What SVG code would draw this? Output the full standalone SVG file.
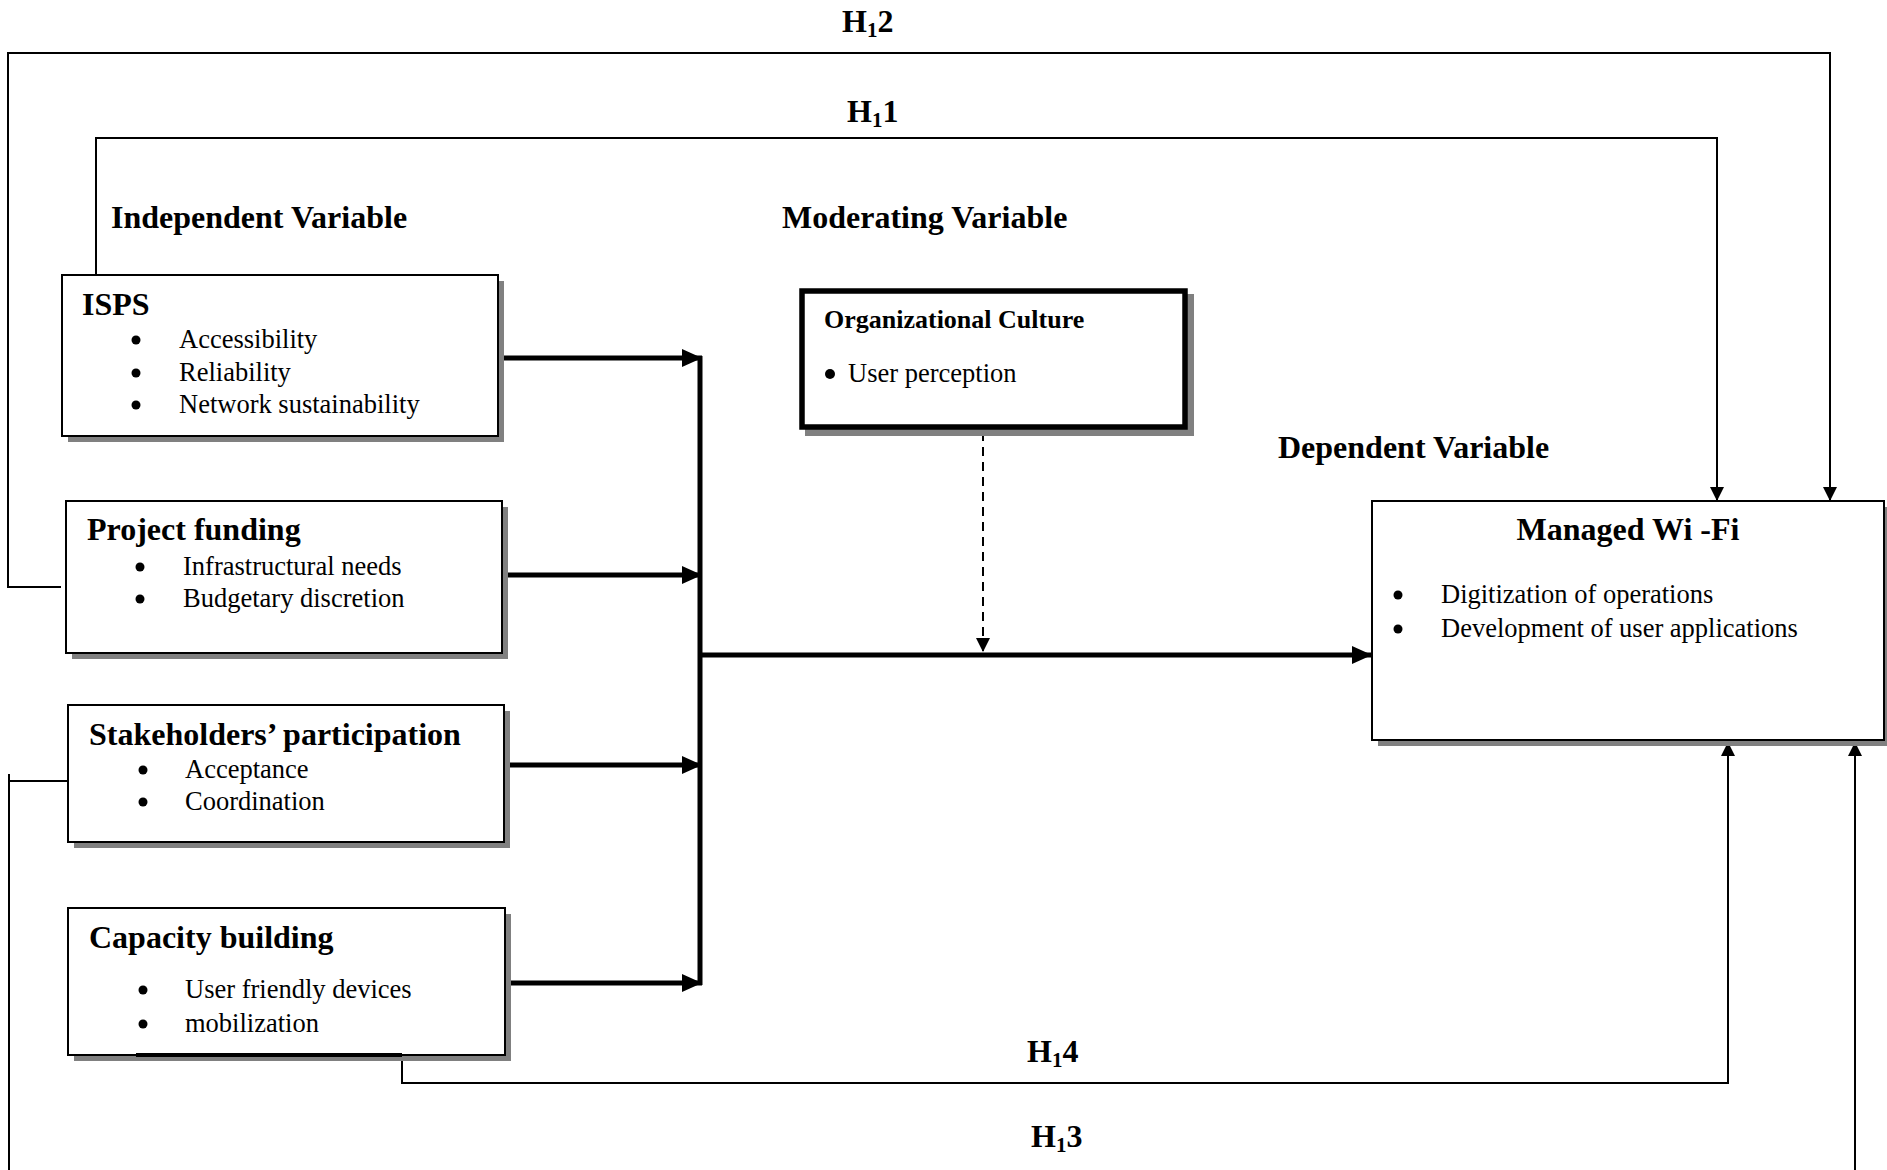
<svg xmlns="http://www.w3.org/2000/svg" width="1887" height="1170" viewBox="0 0 1887 1170">
<style>
text{font-family:"Liberation Serif","Times New Roman",serif;fill:#000}
.h{font-size:32px;font-weight:bold}
.t{font-size:26.5px}
.oc{font-size:26px;font-weight:bold}
.box{fill:#fff;stroke:#000;stroke-width:2}
.sh{fill:#808080}
.thin{fill:none;stroke:#000;stroke-width:2}
.thick{fill:none;stroke:#000;stroke-width:5}
.dash{fill:none;stroke:#000;stroke-width:2;stroke-dasharray:9 6}
</style>
<defs>
<marker id="a" markerUnits="userSpaceOnUse" markerWidth="16" markerHeight="16" refX="14" refY="7" orient="auto"><path d="M0,0 L14,7 L0,14 z" fill="#000"/></marker>
<marker id="ab" markerUnits="userSpaceOnUse" markerWidth="22" markerHeight="20" refX="20" refY="9" orient="auto"><path d="M0,0 L20,9 L0,18 z" fill="#000"/></marker>
</defs>
<rect width="1887" height="1170" fill="#fff"/>

<g id="labels">
<text class="h" x="842" y="32">H<tspan font-size="21" dy="5">1</tspan><tspan dy="-5">2</tspan></text>
<text class="h" x="847" y="122">H<tspan font-size="21" dy="5">1</tspan><tspan dy="-5">1</tspan></text>
<text class="h" x="1027" y="1062">H<tspan font-size="21" dy="5">1</tspan><tspan dy="-5">4</tspan></text>
<text class="h" x="1031" y="1147">H<tspan font-size="21" dy="5">1</tspan><tspan dy="-5">3</tspan></text>
<text class="h" x="111" y="228">Independent Variable</text>
<text class="h" x="782" y="228">Moderating Variable</text>
<text class="h" x="1278" y="458">Dependent Variable</text>
</g>

<g id="connectors">
<path class="thin" d="M61,587 H8 V53 H1830 V501" marker-end="url(#a)"/>
<path class="thin" d="M96,278 V138 H1717 V501" marker-end="url(#a)"/>
<path class="thin" d="M91,280 H96"/>
<path class="thin" d="M68,781 H9 V1170"/>
<path class="thin" d="M9,774 V781"/>
<path class="thin" d="M1855,1170 V742" marker-end="url(#a)"/>
<path class="thin" d="M402,1056 V1083 H1728 V742" marker-end="url(#a)"/>
<path class="thick" d="M498,358 H702" marker-end="url(#ab)"/>
<path class="thick" d="M502,575 H702" marker-end="url(#ab)"/>
<path class="thick" d="M504,765 H702" marker-end="url(#ab)"/>
<path class="thick" d="M505,983 H702" marker-end="url(#ab)"/>
<path class="thick" d="M700,356 V985"/>
<path class="thick" d="M698,655 H1372" marker-end="url(#ab)"/>
<path class="dash" d="M983,432 V652" marker-end="url(#a)"/>
</g>

<g id="isps">
<rect class="sh" x="68" y="281" width="436" height="161"/>
<rect class="box" x="62" y="275" width="436" height="161"/>
<text class="h" x="82" y="315">ISPS</text>
<circle cx="136" cy="340" r="4.5"/><circle cx="136" cy="373" r="4.5"/><circle cx="136" cy="405" r="4.5"/>
<text class="t" x="179" y="348">Accessibility</text>
<text class="t" x="179" y="381">Reliability</text>
<text class="t" x="179" y="413">Network sustainability</text>
</g>

<g id="project-funding">
<rect class="sh" x="72" y="507" width="436" height="152"/>
<rect class="box" x="66" y="501" width="436" height="152"/>
<text class="h" x="87" y="540">Project funding</text>
<circle cx="140" cy="567" r="4.5"/><circle cx="140" cy="599" r="4.5"/>
<text class="t" x="183" y="575">Infrastructural needs</text>
<text class="t" x="183" y="607">Budgetary discretion</text>
</g>

<g id="stakeholders">
<rect class="sh" x="74" y="711" width="436" height="137"/>
<rect class="box" x="68" y="705" width="436" height="137"/>
<text class="h" x="89" y="745">Stakeholders’ participation</text>
<circle cx="143" cy="770" r="4.5"/><circle cx="143" cy="802" r="4.5"/>
<text class="t" x="185" y="778">Acceptance</text>
<text class="t" x="185" y="810">Coordination</text>
</g>

<g id="capacity">
<rect class="sh" x="74" y="914" width="437" height="147"/>
<rect class="box" x="68" y="908" width="437" height="147"/>
<path d="M136,1055 H402" stroke="#000" stroke-width="4"/>
<text class="h" x="89" y="948">Capacity building</text>
<circle cx="143" cy="990" r="4.5"/><circle cx="143" cy="1024" r="4.5"/>
<text class="t" x="185" y="998">User friendly devices</text>
<text class="t" x="185" y="1032">mobilization</text>
</g>

<g id="org-culture">
<rect class="sh" x="805" y="294" width="389" height="142"/>
<rect x="802" y="291" width="383" height="136" fill="#fff" stroke="#000" stroke-width="5.5"/>
<text class="oc" x="824" y="328">Organizational Culture</text>
<circle cx="830" cy="374" r="5"/>
<text class="t" x="848" y="382">User perception</text>
</g>

<g id="managed-wifi">
<rect class="sh" x="1378" y="507" width="512" height="239"/>
<rect class="box" x="1372" y="501" width="512" height="239"/>
<text class="h" x="1628" y="540" text-anchor="middle">Managed Wi -Fi</text>
<circle cx="1398" cy="595" r="4.5"/><circle cx="1398" cy="629" r="4.5"/>
<text class="t" x="1441" y="603">Digitization of operations</text>
<text class="t" x="1441" y="637">Development of user applications</text>
</g>
</svg>
